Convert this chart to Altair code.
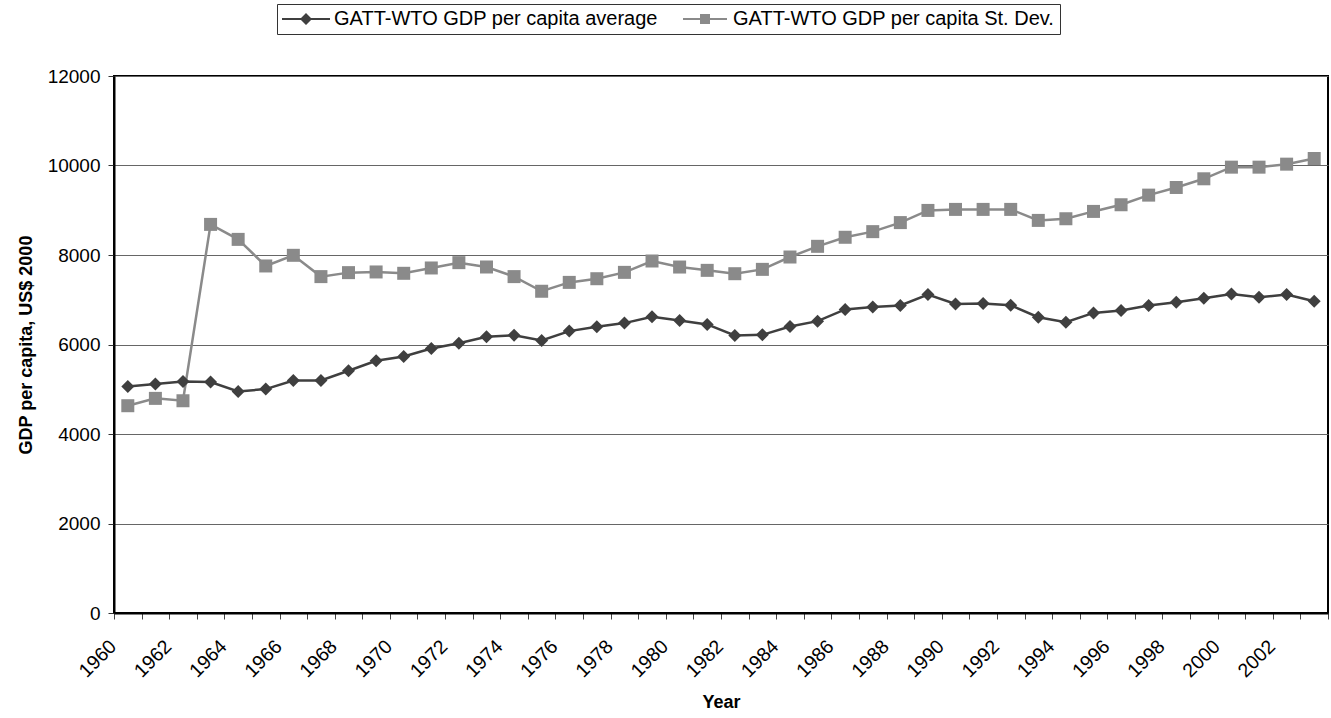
import altair as alt
import pandas as pd

years = list(range(1960, 2004))
avg = [5063, 5115, 5175, 5160, 4952, 5004, 5197, 5197, 5413, 5636, 5732, 5911,
       6030, 6171, 6208, 6089, 6299, 6396, 6478, 6619, 6537, 6448, 6201, 6216,
       6403, 6522, 6784, 6836, 6873, 7115, 6907, 6914, 6877, 6610, 6498, 6706,
       6758, 6870, 6944, 7033, 7130, 7056, 7115, 6967]
sd = [4632, 4796, 4743, 8684, 8349, 7755, 7993, 7517, 7606, 7621, 7591, 7710,
      7829, 7732, 7517, 7190, 7388, 7470, 7612, 7866, 7731, 7657, 7582, 7679,
      7955, 8194, 8396, 8522, 8724, 8996, 9019, 9019, 9019, 8773, 8810, 8974,
      9123, 9338, 9509, 9703, 9963, 9963, 10030, 10156]
S1 = "GATT-WTO GDP per capita average"
S2 = "GATT-WTO GDP per capita St. Dev."
series_names = [S1, S2]
line_colors = ["#3f3f3f", "#8a8a8a"]
y_ticks = [0, 2000, 4000, 6000, 8000, 10000, 12000]

df = pd.DataFrame({
    "year": years + years,
    "value": avg + sd,
    "series": [S1] * len(years) + [S2] * len(years),
})

FONT = "Liberation Sans"

x_enc = alt.X(
    "year:O",
    title="Year",
    scale=alt.Scale(type="band", paddingInner=0, paddingOuter=0),
    axis=alt.Axis(
        tickBand="extent", labelAngle=-45, labelAlign="right", labelBaseline="middle",
        labelExpr="datum.value % 2 == 0 ? datum.label : ''", labelOverlap=False,
        grid=False, tickSize=6, tickColor="#444444", domainColor="black", domainWidth=2,
        labelPadding=24, labelOffset=-15, titlePadding=13, labelFontSize=19.5,
    ),
)
y_enc = alt.Y(
    "value:Q",
    title="GDP per capita, US$ 2000",
    scale=alt.Scale(domain=[0, 12000], nice=False),
    axis=alt.Axis(
        values=y_ticks, format="d", grid=True, gridColor="#666666", gridWidth=1.2,
        tickSize=6, tickColor="#333333", domainColor="black", domainWidth=2,
        labelPadding=8, titlePadding=12,
    ),
)

color_plain = alt.Color("series:N", scale=alt.Scale(domain=series_names, range=line_colors), legend=None)

lines = alt.Chart(df).mark_line(strokeWidth=2.5).encode(x=x_enc, y=y_enc, color=color_plain)

points = alt.Chart(df).mark_point(filled=True, size=169, opacity=1).encode(
    x=x_enc, y=y_enc, color=color_plain,
    shape=alt.Shape("series:N", scale=alt.Scale(domain=series_names, range=["diamond", "square"]), legend=None),
)

sym1 = "M-2.4,-0.1H2.4V0.1H-2.4Z M0,-0.6L0.6,0L0,0.6L-0.6,0Z"
sym2 = "M-2.2,-0.1H2.2V0.1H-2.2Z M-0.5,-0.5H0.5V0.5H-0.5Z"
leg = alt.Legend(
    title=None, orient="none", legendX=163, legendY=-72, direction="horizontal",
    symbolSize=400, symbolOffset=14, labelOffset=18, symbolStrokeWidth=0,
    labelFont=FONT, labelFontSize=20, labelColor="black", labelLimit=0,
    strokeColor="#333333", padding=5, columnPadding=23,
)
legend_layer = alt.Chart(df).transform_filter("false").mark_point(filled=True, opacity=1).encode(
    x=x_enc, y=y_enc,
    color=alt.Color("series:N", scale=alt.Scale(domain=series_names, range=line_colors), legend=leg),
    shape=alt.Shape("series:N", scale=alt.Scale(domain=series_names, range=[sym1, sym2]), legend=leg),
)

chart = (
    alt.layer(lines, points, legend_layer)
    .resolve_scale(color="independent", shape="independent")
    .properties(
        width=1214, height=537,
        padding={"left": 114, "top": 76, "right": 3, "bottom": 105},
        autosize=alt.AutoSizeParams(type="none"),
        background="white",
    )
    .configure_view(stroke="black", strokeWidth=2)
    .configure_axis(
        labelFont=FONT, labelFontSize=19, labelColor="black",
        titleFont=FONT, titleFontSize=18, titleFontWeight="bold", titleColor="black",
    )
)

chart.save("out.html", embed_options={"renderer": "svg", "actions": False})
